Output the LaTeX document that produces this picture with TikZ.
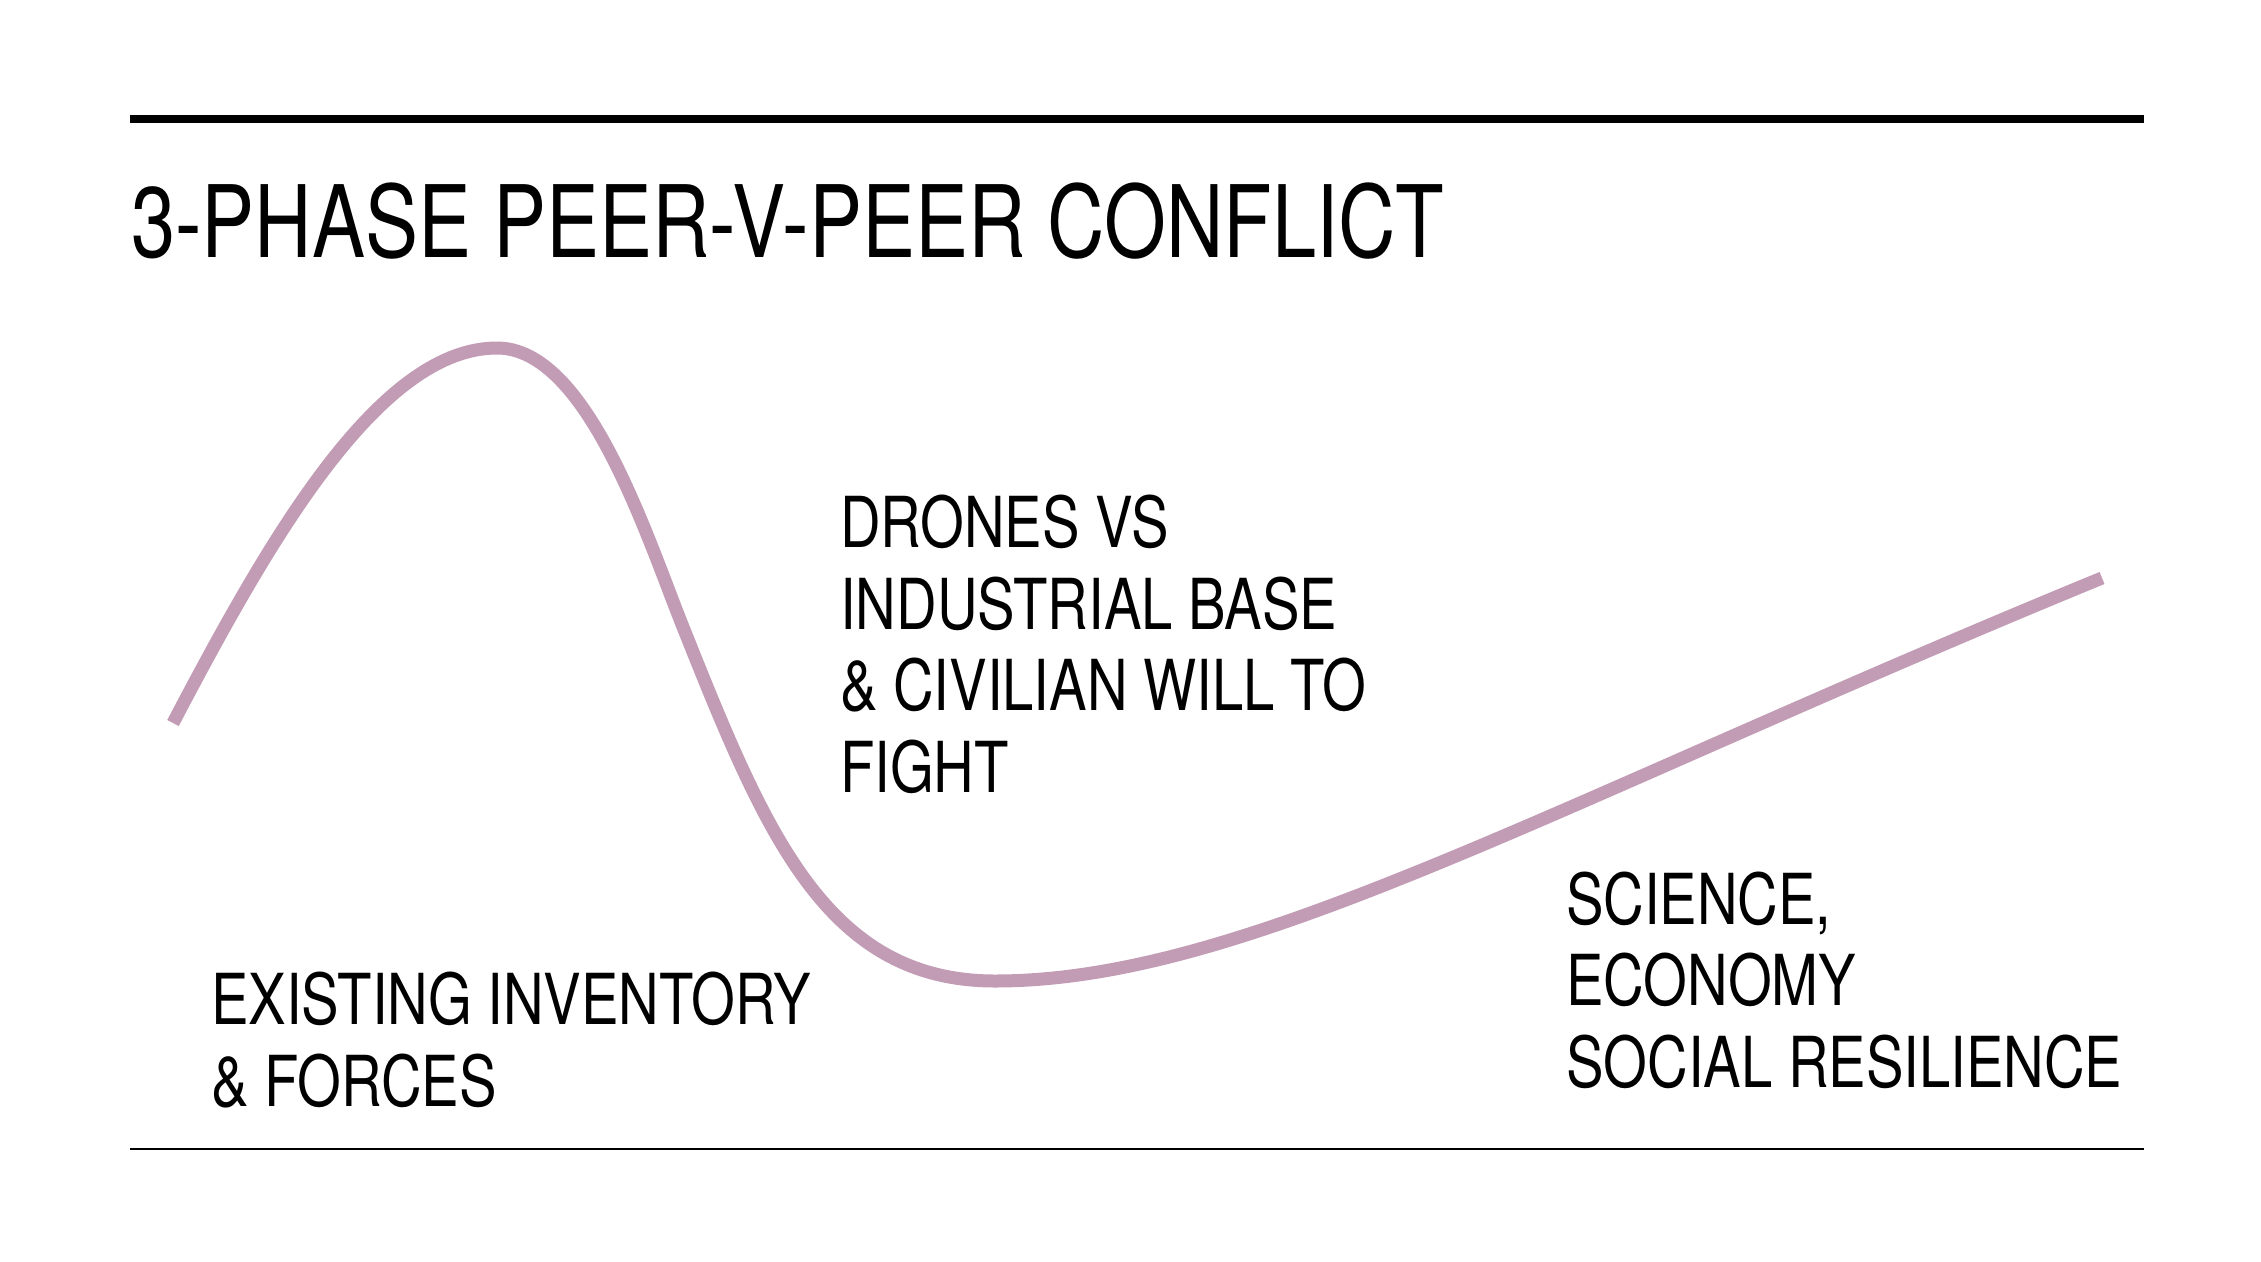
\documentclass[tikz,border=0pt]{standalone}
\usepackage{fontspec}
\setmainfont{TeX Gyre Heros}[FakeStretch=0.80]
\newfontfamily\titlefont{TeX Gyre Heros}[FakeStretch=0.795]
\definecolor{curvecol}{HTML}{C29BB4}
\begin{document}
\begin{tikzpicture}[x=1pt,y=-1pt,
  rule/.style={draw=black,line cap=butt},
  label/.style={anchor=base west,inner sep=0pt,align=left,
    font=\fontsize{70.3}{81.5}\selectfont},
  titlestyle/.style={anchor=base west,inner sep=0pt,font=\titlefont\fontsize{100}{110}\selectfont},
  curve/.style={draw=curvecol,line width=13pt,line cap=butt,line join=round}]
\useasboundingbox[fill=white] (0,0) rectangle (2261,1261);
\coordinate (tl) at (130,119);
\coordinate (tr) at (2144,119);
\coordinate (bl) at (130,1149);
\coordinate (br) at (2144,1149);
\draw[rule,line width=8pt] (tl) -- (tr);
\draw[rule,line width=2.5pt] (bl) -- (br);
\node[titlestyle] (title) at (131,257) {3-PHASE PEER-V-PEER CONFLICT};
\coordinate (c0) at (173,723);
\coordinate (peak) at (497,348);
\coordinate (infl) at (683,627);
\coordinate (trough) at (995,981);
\coordinate (c4) at (2102,578);
\draw[curve] (c0) .. controls (266,546) and (377,348) .. (peak)
  .. controls (587,348) and (645.9,534.2) .. (infl)
  .. controls (764.6,831) and (825,981) .. (trough)
  .. controls (1245,981) and (1547,806) .. (c4);
\node[label] (drones) at (840,792) {DRONES VS\\INDUSTRIAL BASE\\\& CIVILIAN WILL TO\\FIGHT};
\node[label] (existing) at (211,1106) {EXISTING INVENTORY\\\& FORCES};
\node[label] (science) at (1566,1087) {SCIENCE,\\ECONOMY\\SOCIAL RESILIENCE};
\end{tikzpicture}
\end{document}
